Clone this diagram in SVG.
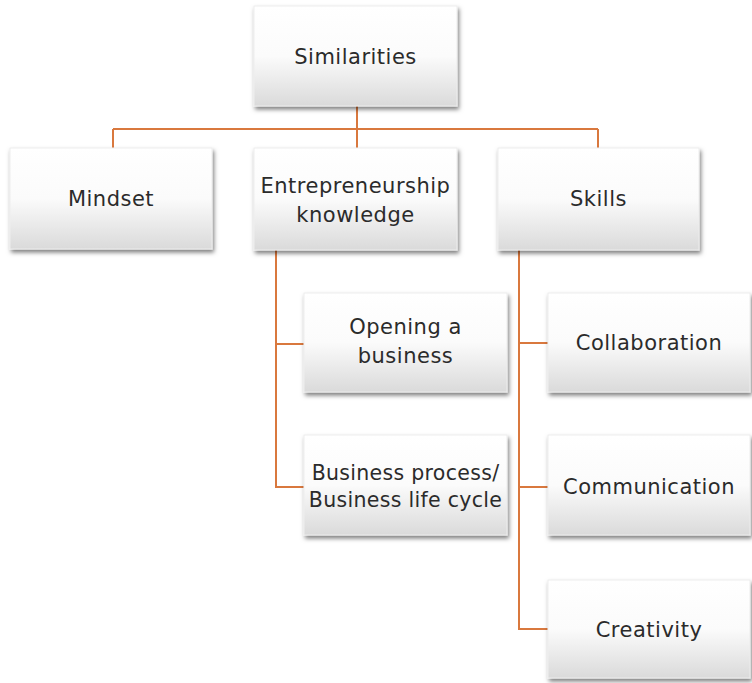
<svg xmlns="http://www.w3.org/2000/svg" width="752" height="683" viewBox="0 0 752 683">
  <defs>
    <linearGradient id="boxFill" x1="0" y1="0" x2="0" y2="1">
      <stop offset="0" stop-color="#ffffff"/>
      <stop offset="0.5" stop-color="#fbfbfb"/>
      <stop offset="1" stop-color="#dadada"/>
    </linearGradient>
    <filter id="shadow" x="-10%" y="-10%" width="125%" height="130%">
      <feDropShadow dx="1.5" dy="3" stdDeviation="2" flood-color="#000" flood-opacity="0.5"/>
    </filter>
  </defs>
  <style>
    .box { fill: url(#boxFill); stroke: #ededed; stroke-width: 1; filter: url(#shadow); }
    .label { font-family: "DejaVu Sans", "Liberation Sans", sans-serif; font-size: 21px; letter-spacing: 0.5px; fill: #2b2b2b; text-anchor: middle; }
    .tight { font-size: 20.5px; letter-spacing: 0.3px; }
    .link { fill: none; stroke: #d9783e; stroke-width: 2; }
  </style>
  <rect width="752" height="683" fill="#ffffff"/>

  <g id="connectors">
    <path class="link" d="M357 106 V129 M113 129 H598 M113 129 V148 M357 129 V148 M598 129 V148"/>
    <path class="link" d="M276 250 V487 H304 M276 344 H304"/>
    <path class="link" d="M519 250 V629 H548 M519 343 H548 M519 487 H548"/>
  </g>

  <g id="similarities">
    <rect class="box" x="254" y="6" width="203" height="100"/>
    <text class="label" x="355.5" y="64">Similarities</text>
  </g>
  <g id="mindset">
    <rect class="box" x="10" y="148" width="202" height="101"/>
    <text class="label" x="111" y="206">Mindset</text>
  </g>
  <g id="entrepreneurship-knowledge">
    <rect class="box" x="254" y="148" width="203" height="102"/>
    <text class="label" x="355.5" y="192.5">Entrepreneurship</text>
    <text class="label" x="355.5" y="221.5">knowledge</text>
  </g>
  <g id="skills">
    <rect class="box" x="498" y="148" width="201" height="102"/>
    <text class="label" x="598.5" y="206">Skills</text>
  </g>
  <g id="opening-a-business">
    <rect class="box" x="304" y="293" width="203" height="99"/>
    <text class="label" x="405.5" y="334">Opening a</text>
    <text class="label" x="405.5" y="363">business</text>
  </g>
  <g id="business-process">
    <rect class="box" x="304" y="435" width="203" height="100"/>
    <text class="label tight" x="405.5" y="480">Business process/</text>
    <text class="label tight" x="405.5" y="507">Business life cycle</text>
  </g>
  <g id="collaboration">
    <rect class="box" x="548" y="293" width="202" height="99"/>
    <text class="label" x="649" y="350">Collaboration</text>
  </g>
  <g id="communication">
    <rect class="box" x="548" y="435" width="202" height="100"/>
    <text class="label" x="649" y="494">Communication</text>
  </g>
  <g id="creativity">
    <rect class="box" x="548" y="580" width="202" height="98"/>
    <text class="label" x="649" y="637">Creativity</text>
  </g>
</svg>
